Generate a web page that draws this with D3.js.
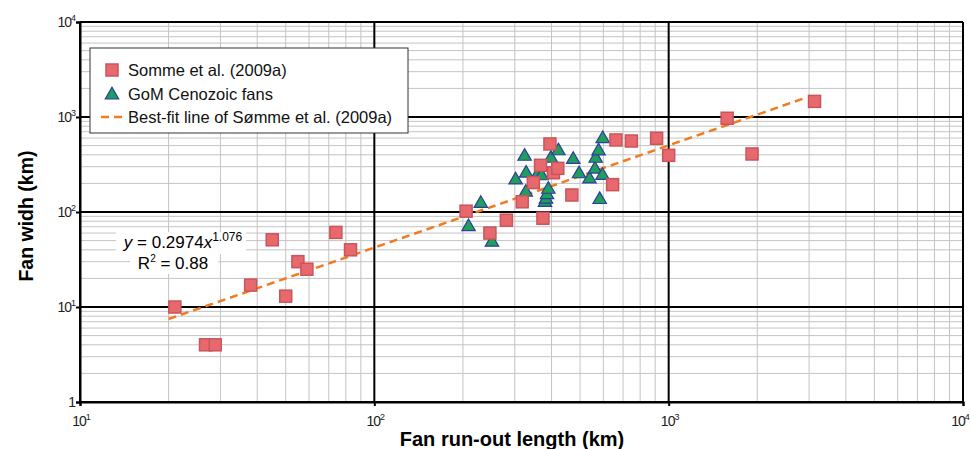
<!DOCTYPE html>
<html lang="en">
<head>
<meta charset="UTF-8">
<title>Fan width vs run-out length</title>
<script src="https://cdnjs.cloudflare.com/ajax/libs/d3/7.8.5/d3.min.js"></script>
<style>
  body { margin: 0; background: #fff; }
  svg { display: block; font-family: "Liberation Sans", Arial, sans-serif; }
</style>
</head>
<body>
<div id="chart"></div>
<script>
// Somme et al. (2009a) points: [run-out length km, width km]
const sommeLength = [21, 26.7, 28.8, 38, 45, 50, 55, 59, 74, 83, 205, 247, 281, 318, 347, 367, 374, 395, 406, 420, 469, 645, 662, 747, 910, 1000, 1580, 1920, 3130];
const sommeWidth  = [10, 4, 4, 17, 51, 13, 30, 25, 61, 40, 102, 60, 82, 128, 204, 310, 86, 520, 259, 288, 151, 194, 573, 559, 597, 395, 970, 408, 1460];

// GoM Cenozoic fans
const gomLength = [209, 230, 251, 302, 324, 327, 328, 361, 370, 380, 383, 386, 390, 398, 422, 474, 496, 538, 562, 565, 578, 583, 596, 597];
const gomWidth  = [70, 123, 48, 217, 385, 161, 256, 256, 240, 126, 136, 152, 173, 367, 440, 357, 252, 222, 282, 367, 438, 135, 242, 590];

// best-fit line y = 0.2974 x^1.076
const fitA = 0.2974, fitB = 1.076;
const fitRange = [20, 2950];

const xDecades = [10, 100, 1000, 10000];
const yDecades = [1, 10, 100, 1000, 10000];

const W = 971, H = 449;
const margin = { top: 22, right: 8, bottom: 47, left: 80 };
const width = W - margin.left - margin.right;
const height = H - margin.top - margin.bottom;

const svg = d3.select("#chart").append("svg")
    .attr("width", W).attr("height", H);

const g = svg.append("g").attr("transform", `translate(${margin.left},${margin.top})`);

const x = d3.scaleLog().domain([10, 10000]).range([0, width]);
const y = d3.scaleLog().domain([1, 10000]).range([height, 0]);

// minor grid
const minorX = [], minorY = [];
xDecades.slice(0, -1).forEach(d => { for (let k = 2; k <= 9; k++) minorX.push(d * k); });
yDecades.slice(0, -1).forEach(d => { for (let k = 2; k <= 9; k++) minorY.push(d * k); });

g.append("g").selectAll("line").data(minorX).join("line")
    .attr("x1", d => x(d)).attr("x2", d => x(d))
    .attr("y1", 0).attr("y2", height)
    .attr("stroke", "#c4c4c4").attr("stroke-width", 1);
g.append("g").selectAll("line").data(minorY).join("line")
    .attr("y1", d => y(d)).attr("y2", d => y(d))
    .attr("x1", 0).attr("x2", width)
    .attr("stroke", "#c4c4c4").attr("stroke-width", 1);

// major grid
g.append("g").selectAll("line").data(xDecades).join("line")
    .attr("x1", d => x(d)).attr("x2", d => x(d))
    .attr("y1", 0).attr("y2", height)
    .attr("stroke", "#000").attr("stroke-width", 2);
g.append("g").selectAll("line").data(yDecades).join("line")
    .attr("y1", d => y(d)).attr("y2", d => y(d))
    .attr("x1", 0).attr("x2", width)
    .attr("stroke", "#000").attr("stroke-width", 2);

// axes (ticks only, labels drawn below with superscripts)
g.append("g").attr("transform", `translate(0,${height})`)
    .call(d3.axisBottom(x).tickValues(xDecades).tickSize(4).tickFormat(""))
    .call(a => a.select(".domain").attr("stroke-width", 2))
    .call(a => a.selectAll(".tick line").attr("stroke-width", 2));
g.append("g")
    .call(d3.axisLeft(y).tickValues(yDecades).tickSize(4).tickFormat(""))
    .call(a => a.select(".domain").attr("stroke-width", 2))
    .call(a => a.selectAll(".tick line").attr("stroke-width", 2));

function powLabel(sel, d) {
  const e = Math.round(Math.log10(d));
  if (e === 0) { sel.text("1"); return; }
  sel.append("tspan").text("10");
  sel.append("tspan").attr("dy", -6).attr("font-size", 9).text(e);
}

// last x label kept inside the window
g.append("g").selectAll("text").data(xDecades).join("text")
    .attr("x", (d, i) => i === xDecades.length - 1 ? width - 3 : x(d) + 1)
    .attr("y", height + 24)
    .attr("text-anchor", "middle").attr("font-size", 14)
    .attr("letter-spacing", -1).attr("fill", "#222")
    .each(function(d) { powLabel(d3.select(this), d); });

g.append("g").selectAll("text").data(yDecades).join("text")
    .attr("x", -5).attr("y", d => y(d) + 5)
    .attr("text-anchor", "end").attr("font-size", 14)
    .attr("letter-spacing", -1).attr("fill", "#222")
    .each(function(d) { powLabel(d3.select(this), d); });

// axis titles
svg.append("text")
    .attr("x", 512).attr("y", 446)
    .attr("text-anchor", "middle").attr("font-size", 20).attr("font-weight", "bold")
    .text("Fan run-out length (km)");
svg.append("text")
    .attr("transform", `translate(33,216) rotate(-90)`)
    .attr("text-anchor", "middle").attr("font-size", 19.5).attr("font-weight", "bold")
    .text("Fan widh (km)");

// best-fit line
const line = d3.line().x(d => x(d)).y(d => y(fitA * Math.pow(d, fitB)));
g.append("path")
    .datum(fitRange)
    .attr("d", line)
    .attr("fill", "none")
    .attr("stroke", "#f47a20")
    .attr("stroke-width", 2.5)
    .attr("stroke-dasharray", "8,5");

// triangles
const tri = d3.symbol().type(d3.symbolTriangle).size(78);
g.append("g").selectAll("path").data(gomLength).join("path")
    .attr("d", tri)
    .attr("transform", (d, i) => `translate(${x(d)},${y(gomWidth[i])})`)
    .attr("fill", "#1f9e5c").attr("stroke", "#2d3f9c").attr("stroke-width", 1.2);

// squares
g.append("g").selectAll("rect").data(sommeLength).join("rect")
    .attr("x", d => x(d) - 6).attr("y", (d, i) => y(sommeWidth[i]) - 6)
    .attr("width", 12).attr("height", 12)
    .attr("fill", "#e8696d").attr("stroke", "#c9555b").attr("stroke-width", 1.5);

// equation label
const eq = g.append("g");
eq.append("rect").attr("x", 36).attr("y", 210).attr("width", 130).attr("height", 22).attr("fill", "#fff");
eq.append("rect").attr("x", 50).attr("y", 232).attr("width", 88).attr("height", 20).attr("fill", "#fff");
const eq1 = eq.append("text").attr("x", 103).attr("y", 226).attr("text-anchor", "middle").attr("font-size", 17);
eq1.append("tspan").attr("font-style", "italic").text("y");
eq1.append("tspan").text(" = 0.2974");
eq1.append("tspan").attr("font-style", "italic").text("x");
eq1.append("tspan").attr("dy", -7).attr("font-size", 12).text("1.076");
const eq2 = eq.append("text").attr("x", 93).attr("y", 247).attr("text-anchor", "middle").attr("font-size", 17);
eq2.append("tspan").text("R");
eq2.append("tspan").attr("dy", -7).attr("font-size", 10).text("2");
eq2.append("tspan").attr("dy", 7).text(" = 0.88");

// legend
const lg = g.append("g").attr("transform", "translate(10,26)");
lg.append("rect").attr("width", 318).attr("height", 85)
    .attr("fill", "#fff").attr("stroke", "#333").attr("stroke-width", 1);
lg.append("rect").attr("x", 16).attr("y", 16).attr("width", 12).attr("height", 12)
    .attr("fill", "#e8696d").attr("stroke", "#c9555b").attr("stroke-width", 1.5);
lg.append("path").attr("d", tri).attr("transform", "translate(22,47)")
    .attr("fill", "#1f9e5c").attr("stroke", "#2d3f9c").attr("stroke-width", 1.2);
lg.append("line").attr("x1", 11).attr("x2", 34).attr("y1", 69).attr("y2", 69)
    .attr("stroke", "#f47a20").attr("stroke-width", 2.5).attr("stroke-dasharray", "8,5");
const items = ["Somme et al. (2009a)", "GoM Cenozoic fans", "Best-fit line of Sømme et al. (2009a)"];
lg.selectAll("text.item").data(items).join("text")
    .attr("class", "item")
    .attr("x", 38).attr("y", (d, i) => 28 + i * 23.5)
    .attr("font-size", 16.5).attr("fill", "#111")
    .text(d => d);
</script>
</body>
</html>
